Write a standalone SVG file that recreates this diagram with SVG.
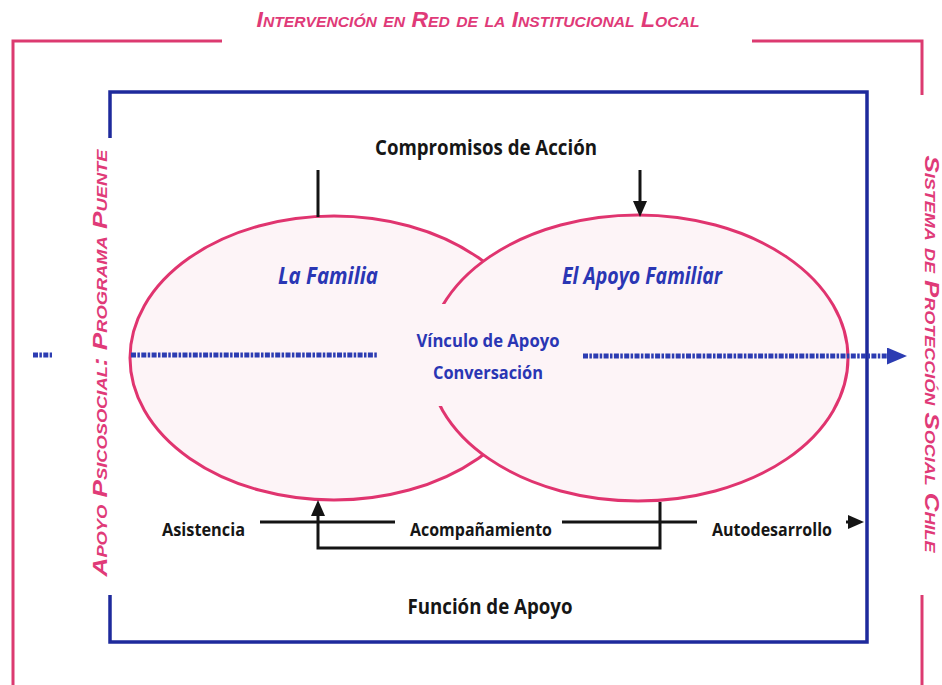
<svg xmlns="http://www.w3.org/2000/svg" width="942" height="685" viewBox="0 0 942 685">
  <defs>
    <style>
      .pinkframe { fill: none; stroke: #dc3a70; stroke-width: 3; }
      .blueframe { fill: none; stroke: #1e2a9c; stroke-width: 3.5; }
      .ellipse { fill: #fdf4f7; stroke: #e0346f; stroke-width: 3; }
      .blk { fill: none; stroke: #141414; stroke-width: 3; }
      .dots { fill: none; stroke: #2c3cb2; stroke-width: 5; stroke-dasharray: 5 1.4 2.5 1.4; }
      .pinktxt { font-family: "Liberation Sans", "DejaVu Sans", sans-serif; font-style: italic; font-variant: small-caps; fill: #e03a78; font-weight: bold; }
      .blktxt { font-family: "Open Sans", "Liberation Sans", sans-serif; font-weight: bold; fill: #161616; }
      .bluetxt { font-family: "Open Sans", "Liberation Sans", sans-serif; font-weight: bold; fill: #2a36b4; }
    </style>
    <marker id="arrBlack" viewBox="0 0 16 14" markerWidth="16" markerHeight="14" refX="8" refY="7" orient="auto" markerUnits="userSpaceOnUse">
      <path d="M0,0 L16,7 L0,14 z" fill="#141414"/>
    </marker>
    <marker id="arrBlue" viewBox="0 0 20 17" markerWidth="20" markerHeight="17" refX="10" refY="8.5" orient="auto" markerUnits="userSpaceOnUse">
      <path d="M0,0 L20,8.5 L0,17 z" fill="#2c3cb2"/>
    </marker>
  </defs>

  <rect width="942" height="685" fill="#ffffff"/>

  <g id="outer-frame">
    <path class="pinkframe" d="M222,41 H13 V685"/>
    <path class="pinkframe" d="M752,41 H922 V95"/>
    <path class="pinkframe" d="M922,595 V685"/>
    <text class="pinktxt" x="478" y="27" font-size="22" text-anchor="middle" textLength="443" lengthAdjust="spacingAndGlyphs">Intervención en Red de la Institucional Local</text>
    <text class="pinktxt" transform="translate(107,363) rotate(-90)" x="0" y="0" font-size="20" text-anchor="middle" textLength="427" lengthAdjust="spacingAndGlyphs">Apoyo Psicosocial: Programa Puente</text>
    <text class="pinktxt" transform="translate(925,354) rotate(90)" x="0" y="0" font-size="20" text-anchor="middle" textLength="397" lengthAdjust="spacingAndGlyphs">Sistema de Protección Social Chile</text>
  </g>

  <g id="inner-frame">
    <path class="blueframe" d="M110,138 V92 H867 V642 H110 V595"/>
    <text class="blktxt" x="486" y="155" font-size="21" text-anchor="middle" textLength="222" lengthAdjust="spacingAndGlyphs">Compromisos de Acción</text>
    <text class="blktxt" x="490" y="614" font-size="21" text-anchor="middle" textLength="165" lengthAdjust="spacingAndGlyphs">Función de Apoyo</text>
  </g>

  <g id="node-la-familia">
    <ellipse class="ellipse" cx="334" cy="358" rx="204" ry="142"/>
    <text class="bluetxt" x="328" y="284" font-size="23" font-style="italic" text-anchor="middle" textLength="100" lengthAdjust="spacingAndGlyphs">La Familia</text>
  </g>

  <g id="node-el-apoyo-familiar">
    <ellipse class="ellipse" cx="638" cy="358" rx="210" ry="143"/>
    <text class="bluetxt" x="642" y="284" font-size="23" font-style="italic" text-anchor="middle" textLength="160" lengthAdjust="spacingAndGlyphs">El Apoyo Familiar</text>
  </g>

  <g id="node-vinculo">
    <rect x="426" y="304" width="134" height="102" fill="#fdf4f7"/>
    <text class="bluetxt" x="488" y="347" font-size="18" text-anchor="middle" textLength="143" lengthAdjust="spacingAndGlyphs">Vínculo de Apoyo</text>
    <text class="bluetxt" x="488" y="379" font-size="18" text-anchor="middle" textLength="110" lengthAdjust="spacingAndGlyphs">Conversación</text>
  </g>

  <g id="node-asistencia">
    <text class="blktxt" x="162" y="536" font-size="18" textLength="83" lengthAdjust="spacingAndGlyphs">Asistencia</text>
  </g>
  <g id="node-acompanamiento">
    <text class="blktxt" x="410" y="536" font-size="18" textLength="142" lengthAdjust="spacingAndGlyphs">Acompañamiento</text>
  </g>
  <g id="node-autodesarrollo">
    <text class="blktxt" x="712" y="536" font-size="18" textLength="120" lengthAdjust="spacingAndGlyphs">Autodesarrollo</text>
  </g>

  <g id="connectors">
    <line class="blk" x1="318" y1="170" x2="318" y2="217"/>
    <line class="blk" x1="640" y1="170" x2="640" y2="209" marker-end="url(#arrBlack)"/>
    <path class="blk" d="M660,502 V548 H318 V508" marker-end="url(#arrBlack)"/>
    <line class="blk" x1="260" y1="522" x2="395" y2="522"/>
    <line class="blk" x1="562" y1="522" x2="697" y2="522"/>
    <line class="blk" x1="846" y1="522" x2="856" y2="522" marker-end="url(#arrBlack)"/>
    <line class="dots" x1="33" y1="355" x2="52" y2="355"/>
    <line class="dots" x1="131" y1="355" x2="378" y2="355"/>
    <line class="dots" x1="583" y1="356" x2="897" y2="356" marker-end="url(#arrBlue)"/>
  </g>
</svg>
